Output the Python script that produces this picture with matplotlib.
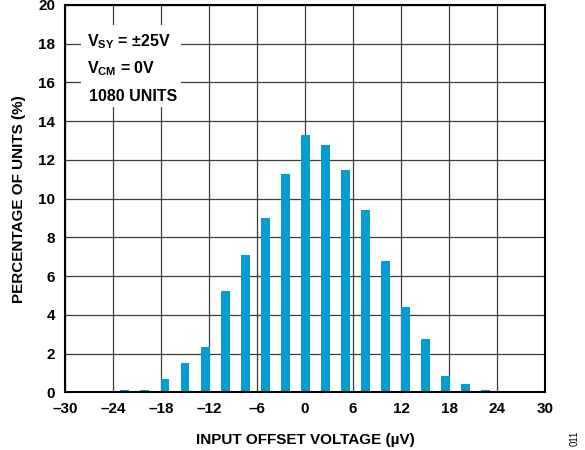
import matplotlib
matplotlib.use("Agg")
import matplotlib.pyplot as plt
from matplotlib.patches import Rectangle

plt.rcParams['font.family'] = ['Liberation Sans', 'DejaVu Sans']
plt.rcParams['mathtext.fontset'] = 'custom'
plt.rcParams['mathtext.rm'] = 'Liberation Sans:bold'
plt.rcParams['mathtext.bf'] = 'Liberation Sans:bold'
plt.rcParams['mathtext.it'] = 'Liberation Sans:bold'

# Data
bin_centers = [-22.5, -20, -17.5, -15, -12.5, -10, -7.5, -5, -2.5, 0,
               2.5, 5, 7.5, 10, 12.5, 15, 17.5, 20, 22.5]
percent_units = [0.10, 0.10, 0.69, 1.54, 2.36, 5.26, 7.08, 9.00, 11.25, 13.31,
                 12.75, 11.50, 9.43, 6.77, 4.43, 2.77, 0.85, 0.43, 0.12]
x_ticks = [-30, -24, -18, -12, -6, 0, 6, 12, 18, 24, 30]
x_tick_labels = ['–30', '–24', '–18', '–12', '–6', '0', '6', '12', '18', '24', '30']
y_ticks = [0, 2, 4, 6, 8, 10, 12, 14, 16, 18, 20]

fig = plt.figure(figsize=(5.85, 4.5), dpi=100)
ax = fig.add_axes([0.111, 0.128, 0.821, 0.861])

ax.bar(bin_centers, percent_units, width=1.12, color='#049DD3', zorder=3)

ax.set_xlim(-30, 30)
ax.set_ylim(0, 20)
ax.set_xticks(x_ticks)
ax.set_xticklabels(x_tick_labels)
ax.set_yticks(y_ticks)
ax.grid(True, color='#3c3c3c', linewidth=0.9, zorder=1)
ax.set_axisbelow(True)
ax.tick_params(length=0, labelsize=11, pad=7)
for lab in ax.get_xticklabels() + ax.get_yticklabels():
    lab.set_fontweight('bold')
for sp in ax.spines.values():
    sp.set_linewidth(1.5)
    sp.set_color('black')
    sp.set_zorder(5)

ax.set_xlabel('INPUT OFFSET VOLTAGE (µV)', fontsize=11, fontweight='bold', labelpad=12)
ax.set_ylabel('PERCENTAGE OF UNITS (%)', fontsize=11, fontweight='bold', labelpad=9)

# white box behind annotation
ax.add_patch(Rectangle((0.033, 0.737), 0.209, 0.211, transform=ax.transAxes,
                       facecolor='white', edgecolor='none', zorder=2))
ax.text(0.045, 0.905, r'V$_{\mathbf{SY}}$ = ±25V', transform=ax.transAxes,
        fontsize=11.5, fontweight='bold', va='center', ha='left', zorder=4)
ax.text(0.045, 0.835, r'V$_{\mathbf{CM}}$ = 0V', transform=ax.transAxes,
        fontsize=11.5, fontweight='bold', va='center', ha='left', zorder=4)
ax.text(0.051, 0.763, '1080 UNITS', transform=ax.transAxes,
        fontsize=11.5, fontweight='bold', va='center', ha='left', zorder=4)

fig.text(0.983, 0.027, '011', rotation=90, fontsize=7, ha='center', va='center')

fig.savefig('out.png', dpi=100)
